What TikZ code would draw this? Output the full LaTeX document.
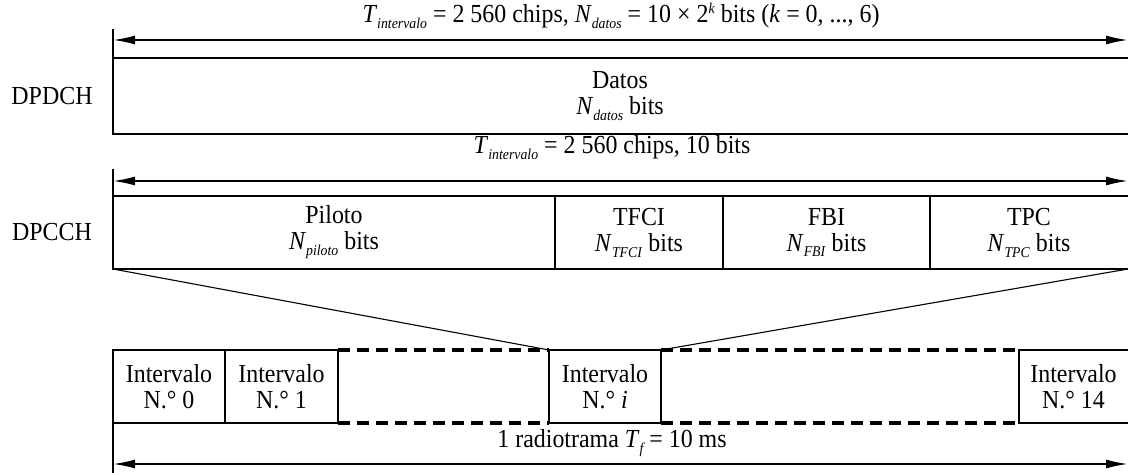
\documentclass[tikz,border=0pt]{standalone}
\usepackage{fontspec}
\setmainfont{Liberation Serif}[FakeStretch=0.92]
\usetikzlibrary{arrows.meta}
\newcommand{\sbi}[1]{\raisebox{-0.5ex}{\fontsize{15}{15}\selectfont\textit{#1}}}
\newcommand{\spi}[1]{\raisebox{0.75ex}{\fontsize{15}{15}\selectfont\textit{#1}}}
\begin{document}
\begin{tikzpicture}[x=1pt,y=-1pt,
  lbl/.style={font=\fontsize{26}{26}\selectfont, inner sep=0pt, align=center},
  frame/.style={draw, line width=1.5pt, inner sep=0pt, outer sep=0pt, anchor=north west},
  dimline/.style={line width=1.8pt, {Latex[length=22pt,width=9pt]}-{Latex[length=22pt,width=9pt]}},
  tickline/.style={line width=1.8pt},
  divider/.style={line width=2.6pt},
  dashline/.style={line width=3.2pt, dash pattern=on 12pt off 7pt},
  fan/.style={line width=1.1pt}]
\useasboundingbox (0,0) rectangle (1128,473);

% ---- DPDCH ----
\node[lbl] (t1) at (621,16) {\textit{T}\sbi{intervalo} = 2 560 chips, \textit{N}\sbi{datos} = 10 × 2\spi{k} bits (\textit{k} = 0, ..., 6)};
\node[frame, minimum width=1020pt, minimum height=76pt] (dpdch) at (113,58) {};
\node[lbl] (datos) at (620,96) {Datos\\\textit{N}\sbi{datos} bits};
\node[lbl] (lab1) at (52,96) {DPDCH};
\coordinate (a1l) at (113,40);
\coordinate (a1r) at (1128,40);
\coordinate (k1) at (113,29);
\draw[dimline] (a1l) -- (a1r);
\draw[tickline] (k1) -- (dpdch.north west);

% ---- DPCCH ----
\node[lbl] (t2) at (612,148) {\textit{T}\sbi{intervalo} = 2 560 chips, 10 bits};
\node[frame, minimum width=1020pt, minimum height=73pt] (dpcch) at (113,196) {};
\node[lbl] (lab2) at (52,232.5) {DPCCH};
\node[lbl] (pil) at (334,232.5) {Piloto\\\textit{N}\sbi{piloto} bits};
\node[lbl] (tfci) at (639,232.5) {TFCI\\\textit{N}\sbi{TFCI} bits};
\node[lbl] (fbi) at (826.5,232.5) {FBI\\\textit{N}\sbi{FBI} bits};
\node[lbl] (tpc) at (1029,232.5) {TPC\\\textit{N}\sbi{TPC} bits};
\coordinate (d1t) at (555,196); \coordinate (d1b) at (555,269);
\coordinate (d2t) at (723,196); \coordinate (d2b) at (723,269);
\coordinate (d3t) at (930,196); \coordinate (d3b) at (930,269);
\draw[divider] (d1t) -- (d1b);
\draw[divider] (d2t) -- (d2b);
\draw[divider] (d3t) -- (d3b);
\coordinate (a2l) at (113,181);
\coordinate (a2r) at (1128,181);
\coordinate (k2) at (113,169);
\draw[dimline] (a2l) -- (a2r);
\draw[tickline] (k2) -- (dpcch.north west);
\coordinate (dse) at (1128,269);

% ---- Radio frame ----
\node[frame, minimum width=112pt, minimum height=73pt] (s0) at (113,350) {};
\node[frame, minimum width=113pt, minimum height=73pt] (s1) at (225,350) {};
\node[frame, minimum width=112pt, minimum height=73pt] (si) at (549,350) {};
\node[frame, minimum width=115pt, minimum height=73pt] (s14) at (1019,350) {};
\node[lbl] (s0t) at (s0.center) {Intervalo\\N.° 0};
\node[lbl] (s1t) at (s1.center) {Intervalo\\N.° 1};
\node[lbl] (sit) at (si.center) {Intervalo\\N.° \textit{i}};
\node[lbl] (s14t) at (1073.5,386.5) {Intervalo\\N.° 14};
\draw[divider] (s0.north east) -- (s0.south east);
\draw[divider] (s14.north west) -- (s14.south west);
\draw[dashline] (s1.north east) -- (si.north west);
\draw[dashline] (s1.south east) -- (si.south west);
\draw[dashline] (si.north east) -- (s14.north west);
\draw[dashline] (si.south east) -- (s14.south west);
\draw[fan] (dpcch.south west) -- (si.north west);
\draw[fan] (dse) -- (si.north east);

\node[lbl] (t3) at (612,443) {1 radiotrama \textit{T}\sbi{f}\,= 10 ms};
\coordinate (a3l) at (113,464);
\coordinate (a3r) at (1128,464);
\coordinate (k3) at (113,473);
\draw[dimline] (a3l) -- (a3r);
\draw[tickline] (s0.south west) -- (k3);
\end{tikzpicture}
\end{document}
